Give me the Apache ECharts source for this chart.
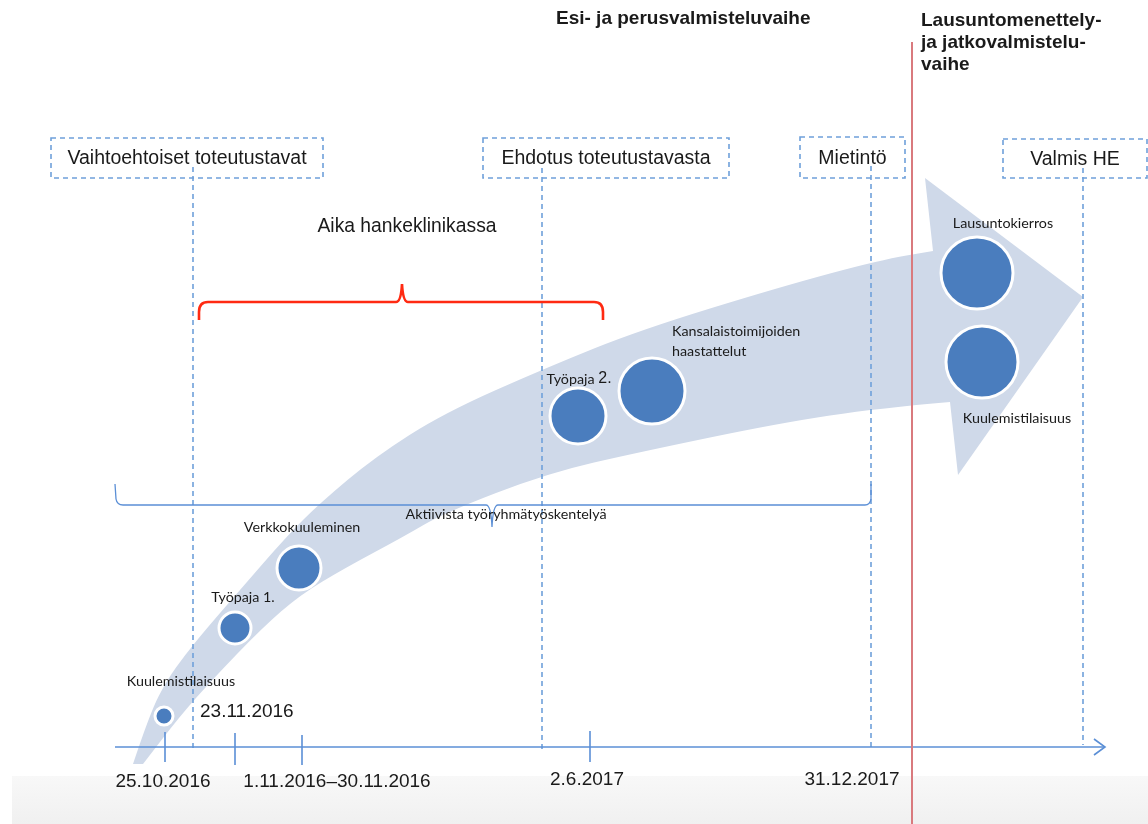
<!DOCTYPE html>
<html><head><meta charset="utf-8">
<script src="https://cdn.jsdelivr.net/npm/echarts@6/dist/echarts.min.js"></script>
<style>html,body{margin:0;padding:0;background:#fff}#c{width:1148px;height:824px}</style>
</head><body><div id="c"></div>
<script>
// ---- phase titles ----
const titleTexts = ['Esi- ja perusvalmisteluvaihe', 'Lausuntomenettely-\nja jatkovalmistelu-\nvaihe'];
const titleX = [556, 921];
const titleY = [19, 43];
// ---- milestone boxes ----
const boxLabels = ['Vaihtoehtoiset toteutustavat', 'Ehdotus toteutustavasta', 'Mietintö', 'Valmis HE'];
const boxLeft = [51, 483, 800, 1003];
const boxRight = [323, 729, 905, 1147];
const boxTop = [138, 138, 137, 139];
const boxBottom = [178, 178, 178, 178];
const milestoneX = [193, 542, 871, 1083];
const milestoneTop = [167, 168, 166, 168];
const milestoneBottom = [748, 752, 747, 745];
// ---- timeline ----
const axisStart = [115, 747];
const axisEnd = [1105, 747];
const tickX = [165, 235, 302, 590];
const tickTop = [732, 733, 735, 731];
const tickBottom = [762, 765, 765, 762];
const dateLabels = ['25.10.2016', '1.11.2016–30.11.2016', '2.6.2017', '31.12.2017', '23.11.2016'];
const dateX = [163, 337, 587, 852, 200];
const dateY = [782, 782, 780, 780, 712];
const dateAlign = ['center', 'center', 'center', 'center', 'left'];
// ---- phase divider ----
const dividerX = 912;
const dividerTop = 42;
const dividerBottom = 824;
// ---- events (circles) ----
const eventNames = ['Kuulemistilaisuus', 'Työpaja 1.', 'Verkkokuuleminen', 'Työpaja 2.', 'Kansalaistoimijoiden\nhaastattelut', 'Lausuntokierros', 'Kuulemistilaisuus'];
const eventX = [164, 235, 299, 578, 652, 977, 982];
const eventY = [716, 628, 568, 416, 391, 273, 362];
const eventR = [9, 16, 22, 28, 33, 36, 36];
const eventLabelX = [181, 243, 302, 579, 672, 1003, 1017];
const eventLabelY = [681, 597, 527, 379, 341, 223, 418];
const eventLabelAlign = ['center', 'center', 'center', 'center', 'left', 'center', 'center'];
const eventLabelBigNumber = [false, false, false, true, false, false, false];
// ---- big curved arrow outline ----
const arrowUpperX = [133, 150, 167, 185, 207, 240, 286, 320, 375, 444, 548, 640, 780, 880, 933];
const arrowUpperY = [764, 713, 680, 655, 628, 590, 537, 503, 457, 413, 367, 330, 287, 260, 251];
const arrowHeadX = [925, 1083, 958];
const arrowHeadY = [178, 297, 475];
const arrowLowerX = [950, 880, 780, 640, 548, 444, 403, 345, 300, 262, 212, 180, 143];
const arrowLowerY = [402, 408, 423, 452, 473, 513, 537, 568, 595, 628, 680, 716, 764];
// ---- braces ----
const redBraceLeft = 199, redBraceRight = 603, redBraceMid = 402, redBraceLine = 302, redBraceEnd = 320, redBracePeak = 284;
const blueBraceLeft = 115, blueBraceRight = 871, blueBraceMid = 492, blueBraceLine = 505, blueBraceEnd = 484, blueBracePeak = 527;
const braceLabels = ['Aika hankeklinikassa', 'Aktiivista työryhmätyöskentelyä'];
const braceLabelX = [407, 506];
const braceLabelY = [227, 514];
// ---- bottom band ----
const bandRect = [12, 776, 1148, 824];

const HELV = '"Liberation Sans", Arial, Helvetica, sans-serif';
const CALI = 'Lato, "Open Sans", sans-serif';
const BOXBLUE = '#6fa0da';
const AXISBLUE = '#5b8fd6';

const chart = echarts.init(document.getElementById('c'), null, { renderer: 'canvas' });

function c(api, x, y) { return api.coord([x, y]); }

function smoothPath(pts, start) {
  let d = (start ? 'M' : 'L') + pts[0][0] + ' ' + pts[0][1];
  for (let i = 1; i < pts.length - 1; i++) {
    const mx = (pts[i][0] + pts[i + 1][0]) / 2, my = (pts[i][1] + pts[i + 1][1]) / 2;
    d += ` Q${pts[i][0]} ${pts[i][1]} ${mx} ${my}`;
  }
  const l = pts[pts.length - 1];
  d += ` L${l[0]} ${l[1]}`;
  return d;
}

const series = [];

// background band
series.push({
  type: 'custom', z: 1, silent: true, data: [bandRect],
  renderItem: (p, api) => {
    const a = c(api, api.value(0), api.value(1)), b = c(api, api.value(2), api.value(3));
    return { type: 'rect', shape: { x: a[0], y: a[1], width: b[0] - a[0], height: b[1] - a[1] },
      style: { fill: new echarts.graphic.LinearGradient(0, 0, 0, 1, [{ offset: 0, color: '#f8f8f8' }, { offset: 1, color: '#f0f0f0' }]) } };
  }
});

// arrow shape
series.push({
  type: 'custom', z: 2, silent: true, data: [[0]],
  renderItem: (p, api) => {
    const up = arrowUpperX.map((x, i) => c(api, x, arrowUpperY[i]));
    const head = arrowHeadX.map((x, i) => c(api, x, arrowHeadY[i]));
    const lo = arrowLowerX.map((x, i) => c(api, x, arrowLowerY[i]));
    let d = smoothPath(up, true);
    head.forEach(h => { d += ` L${h[0]} ${h[1]}`; });
    d += ' ' + smoothPath(lo, false) + ' Z';
    return { type: 'path', shape: { pathData: d }, style: { fill: '#cfd9e9' } };
  }
});

// dashed boxes
series.push({
  type: 'custom', z: 3, silent: true,
  data: boxLeft.map((l, i) => [l, boxTop[i], boxRight[i], boxBottom[i]]),
  renderItem: (p, api) => {
    const a = c(api, api.value(0), api.value(1)), b = c(api, api.value(2), api.value(3));
    return { type: 'rect', shape: { x: a[0], y: a[1], width: b[0] - a[0], height: b[1] - a[1] },
      style: { fill: null, stroke: BOXBLUE, lineWidth: 1.6, lineDash: [5, 4] } };
  }
});

// dashed milestone lines
series.push({
  type: 'custom', z: 3, silent: true,
  data: milestoneX.map((x, i) => [x, milestoneTop[i], milestoneBottom[i]]),
  renderItem: (p, api) => {
    const a = c(api, api.value(0), api.value(1)), b = c(api, api.value(0), api.value(2));
    return { type: 'line', shape: { x1: a[0], y1: a[1], x2: b[0], y2: b[1] },
      style: { stroke: BOXBLUE, lineWidth: 1.6, lineDash: [5, 4] } };
  }
});

// timeline axis + arrow head
series.push({
  type: 'custom', z: 4, silent: true, data: [[axisStart[0], axisStart[1], axisEnd[0], axisEnd[1]]],
  renderItem: (p, api) => {
    const a = c(api, api.value(0), api.value(1)), b = c(api, api.value(2), api.value(3));
    return { type: 'group', children: [
      { type: 'line', shape: { x1: a[0], y1: a[1], x2: b[0], y2: b[1] }, style: { stroke: AXISBLUE, lineWidth: 1.6 } },
      { type: 'polyline', shape: { points: [[b[0] - 11, b[1] - 8], [b[0], b[1]], [b[0] - 11, b[1] + 8]] }, style: { stroke: AXISBLUE, lineWidth: 1.6, fill: null } }
    ] };
  }
});

// ticks
series.push({
  type: 'custom', z: 4, silent: true,
  data: tickX.map((x, i) => [x, tickTop[i], tickBottom[i]]),
  renderItem: (p, api) => {
    const a = c(api, api.value(0), api.value(1)), b = c(api, api.value(0), api.value(2));
    return { type: 'line', shape: { x1: a[0], y1: a[1], x2: b[0], y2: b[1] }, style: { stroke: AXISBLUE, lineWidth: 1.6 } };
  }
});

// braces
series.push({
  type: 'custom', z: 4, silent: true, data: [[0]],
  renderItem: (p, api) => {
    const L = c(api, redBraceLeft, redBraceEnd), R = c(api, redBraceRight, redBraceEnd);
    const yl = c(api, 0, redBraceLine)[1], ym = c(api, redBraceMid, redBracePeak);
    const red = `M${L[0]} ${L[1]} L${L[0]} ${yl + 10} Q${L[0]} ${yl} ${L[0] + 9} ${yl} L${ym[0] - 6} ${yl} Q${ym[0] - 1} ${yl} ${ym[0]} ${ym[1]} Q${ym[0] + 1} ${yl} ${ym[0] + 6} ${yl} L${R[0] - 9} ${yl} Q${R[0]} ${yl} ${R[0]} ${yl + 10} L${R[0]} ${R[1]}`;
    const BL = c(api, blueBraceLeft, blueBraceEnd), BR = c(api, blueBraceRight, blueBraceEnd);
    const by = c(api, 0, blueBraceLine)[1], bm = c(api, blueBraceMid, blueBracePeak);
    const blue = `M${BL[0]} ${BL[1]} L${BL[0] + 1} ${by - 6} Q${BL[0] + 2} ${by} ${BL[0] + 8} ${by} L${bm[0] - 6} ${by} Q${bm[0] - 1} ${by} ${bm[0]} ${bm[1]} Q${bm[0] + 1} ${by} ${bm[0] + 6} ${by} L${BR[0] - 6} ${by} Q${BR[0] - 1} ${by} ${BR[0]} ${by - 6} L${BR[0]} ${BR[1]}`;
    return { type: 'group', children: [
      { type: 'path', shape: { pathData: red }, style: { stroke: '#ff2a12', lineWidth: 2.6, fill: null } },
      { type: 'path', shape: { pathData: blue }, style: { stroke: AXISBLUE, lineWidth: 1.3, fill: null } }
    ] };
  }
});

// divider
series.push({
  type: 'custom', z: 6, silent: true, data: [[dividerX, dividerTop, dividerBottom]],
  renderItem: (p, api) => {
    const a = c(api, api.value(0), api.value(1)), b = c(api, api.value(0), api.value(2));
    return { type: 'line', shape: { x1: a[0], y1: a[1], x2: b[0], y2: b[1] }, style: { stroke: '#d97a7e', lineWidth: 2 } };
  }
});

// event circles
series.push({
  type: 'scatter', z: 5, silent: true,
  data: eventX.map((x, i) => [x, eventY[i], eventR[i]]),
  symbol: 'circle',
  symbolSize: v => v[2] * 2,
  itemStyle: { color: '#4a7dbe', borderColor: '#ffffff', borderWidth: 3, opacity: 1 }
});

// texts
function textSeries(texts, xs, ys, aligns, font, richFlags) {
  return {
    type: 'custom', z: 7, silent: true,
    data: texts.map((t, i) => [xs[i], ys[i], i]),
    renderItem: (p, api) => {
      const i = api.value(2);
      const pt = c(api, api.value(0), api.value(1));
      let txt = texts[i];
      const extra = {};
      if (richFlags && richFlags[i]) {
        txt = txt.replace(/(\d+\.)$/, '{n|$1}');
        extra.rich = { n: { fontFamily: HELV, fontSize: 16, fill: '#1a1a1a' } };
      }
      return { type: 'text', style: Object.assign({ text: txt, x: pt[0], y: pt[1], align: aligns[i], verticalAlign: 'middle', fill: '#1a1a1a' }, font, extra) };
    }
  };
}
series.push(textSeries(titleTexts, titleX, titleY, ['left', 'left'], { fontFamily: HELV, fontSize: 19, fontWeight: 'bold', lineHeight: 22 }));
series.push(textSeries(boxLabels, boxLeft.map((l, i) => (l + boxRight[i]) / 2), boxTop.map((t, i) => (t + boxBottom[i]) / 2 + 1), ['center', 'center', 'center', 'center'], { fontFamily: HELV, fontSize: 19.5 }));
series.push(textSeries(dateLabels, dateX, dateY, dateAlign, { fontFamily: HELV, fontSize: 19 }));
series.push(textSeries(eventNames, eventLabelX, eventLabelY, eventLabelAlign, { fontFamily: CALI, fontSize: 14.3, lineHeight: 20 }, eventLabelBigNumber));
series.push(textSeries([braceLabels[0]], [braceLabelX[0]], [braceLabelY[0]], ['center'], { fontFamily: HELV, fontSize: 19.3 }));
series.push(textSeries([braceLabels[1]], [braceLabelX[1]], [braceLabelY[1]], ['center'], { fontFamily: CALI, fontSize: 14.3 }));

chart.setOption({
  animation: false,
  backgroundColor: '#ffffff',
  grid: { left: 0, right: 0, top: 0, bottom: 0 },
  xAxis: { type: 'value', min: 0, max: 1148, show: false },
  yAxis: { type: 'value', min: 0, max: 824, inverse: true, show: false },
  series: series
});
</script>
</body></html>
